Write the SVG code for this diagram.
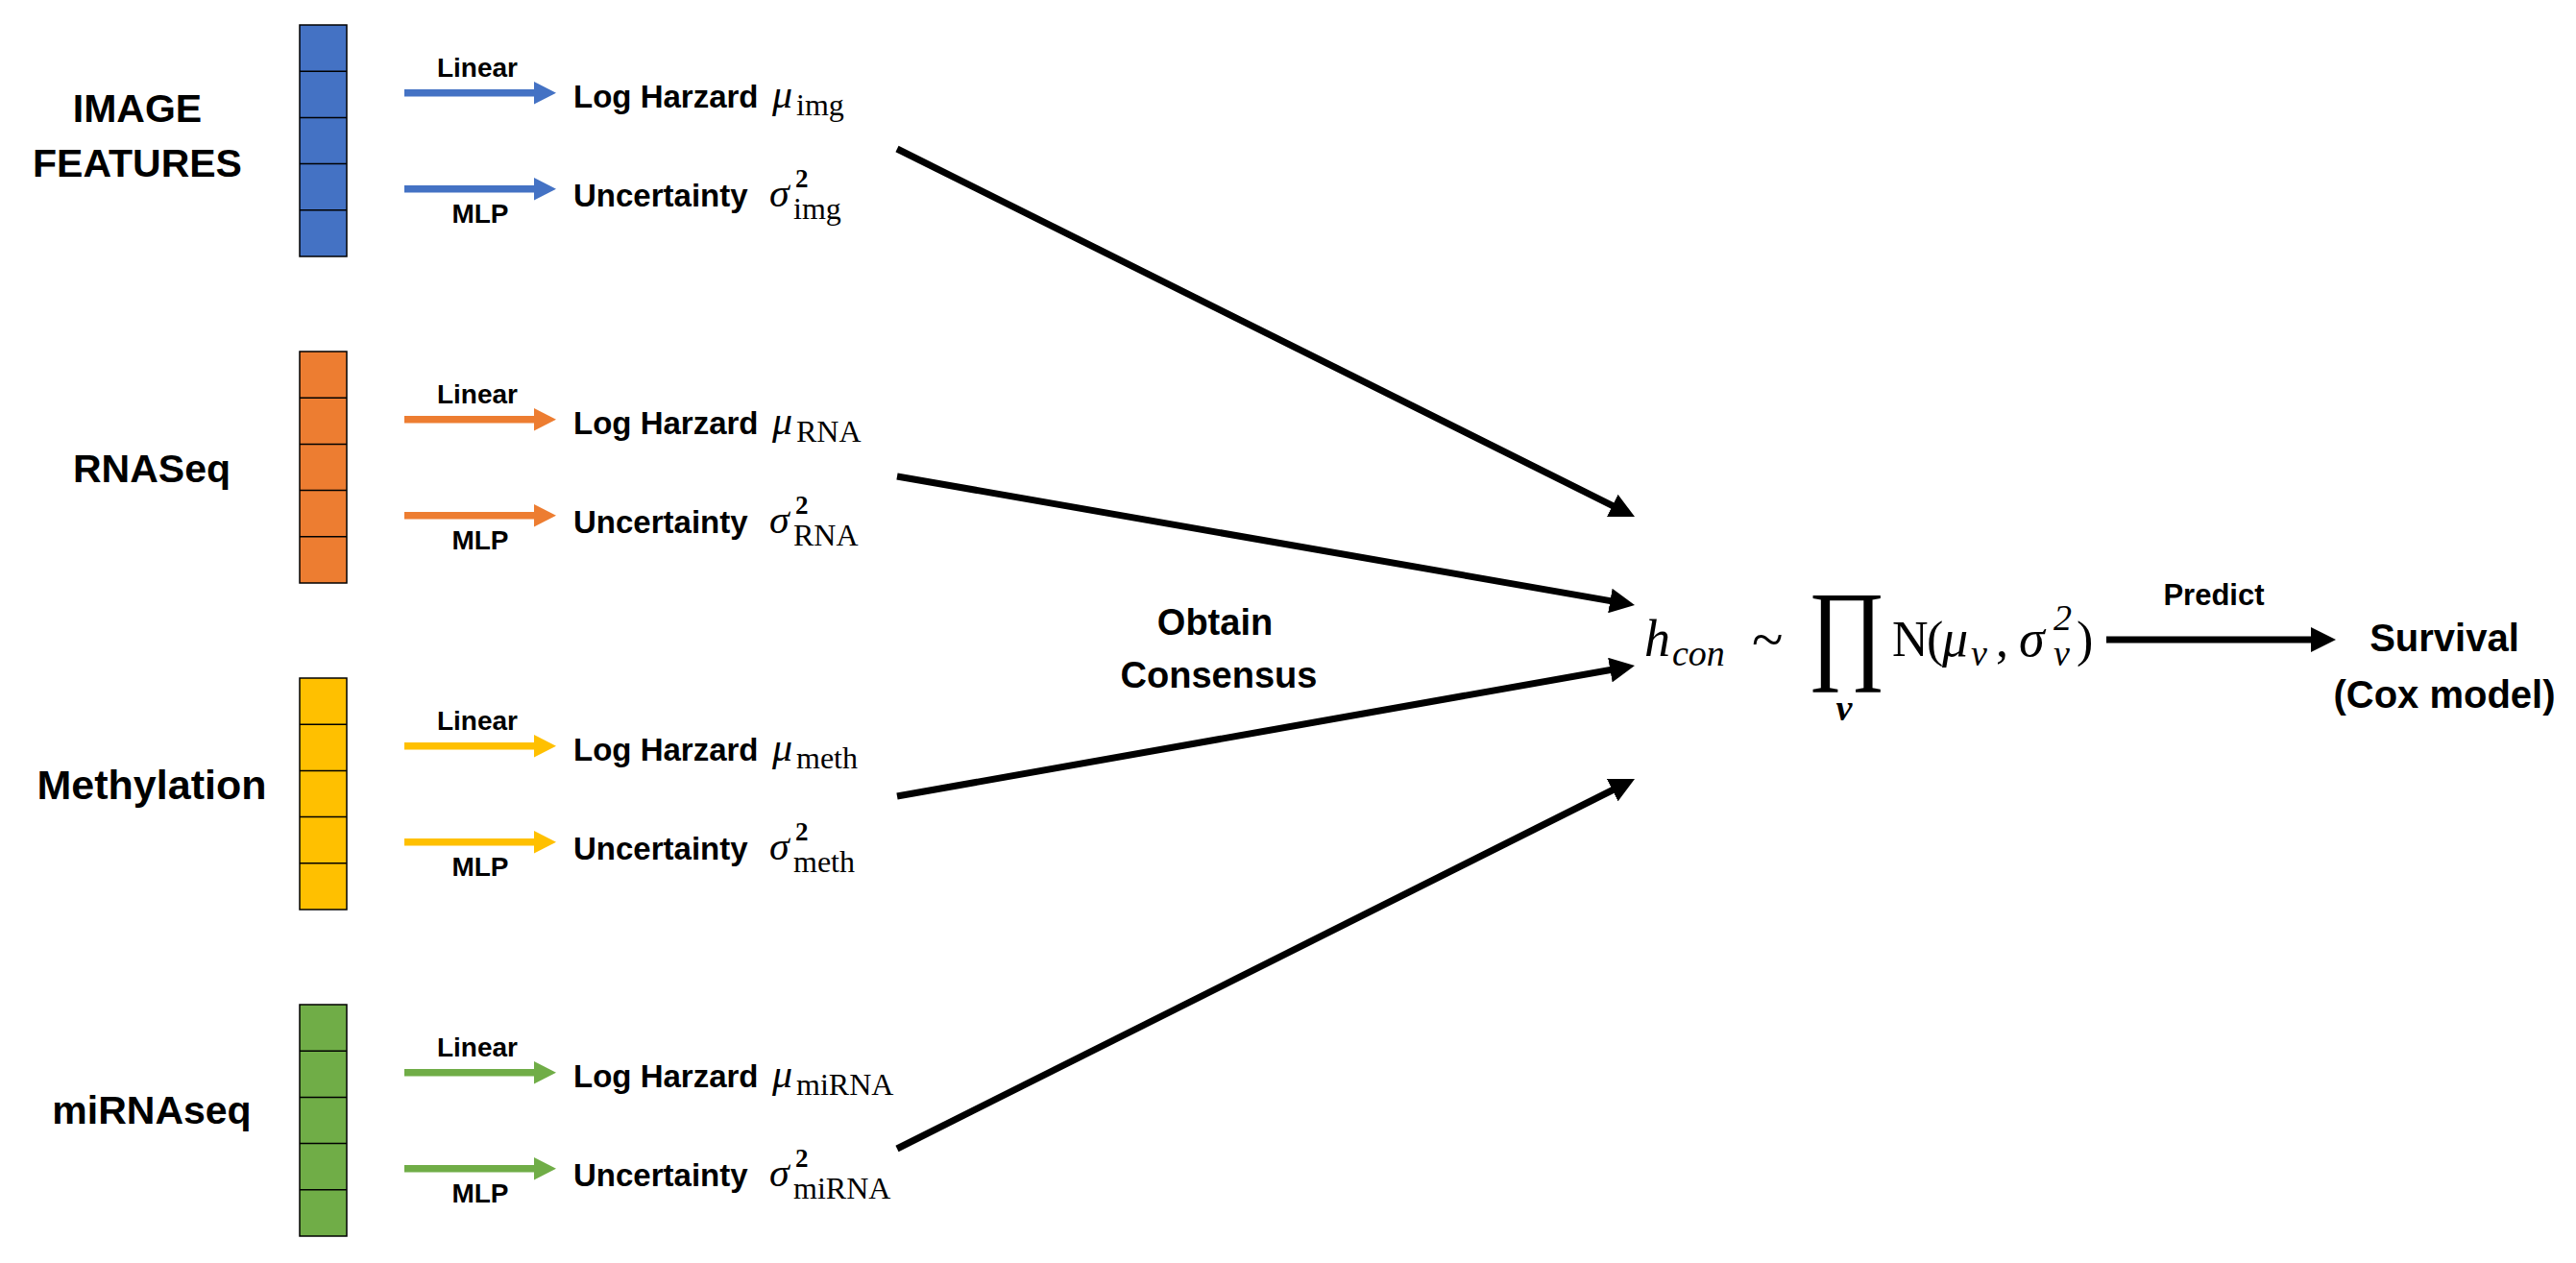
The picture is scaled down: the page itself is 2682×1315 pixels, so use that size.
<svg xmlns="http://www.w3.org/2000/svg" width="2682" height="1315" viewBox="0 0 2682 1315">
<style>
.lab{font-family:"Liberation Sans",Arial,sans-serif;font-weight:bold;font-size:41px;fill:#000;text-anchor:middle}
.sm{font-family:"Liberation Sans",Arial,sans-serif;font-weight:bold;font-size:28px;fill:#000;text-anchor:middle}
.out{font-family:"Liberation Sans",Arial,sans-serif;font-weight:bold;font-size:33px;fill:#000}
.mi{font-family:"Liberation Serif","Times New Roman",serif;font-style:italic;font-size:42px;fill:#000}
.sub{font-family:"Liberation Serif","Times New Roman",serif;font-size:32px;fill:#000}
.sup{font-family:"Liberation Serif","Times New Roman",serif;font-weight:bold;font-size:27px;fill:#000}
.fm{font-family:"Liberation Serif","Times New Roman",serif;font-size:52px;fill:#000}
.fi{font-family:"Liberation Serif","Times New Roman",serif;font-style:italic;font-size:54px;fill:#000}
.fs{font-family:"Liberation Serif","Times New Roman",serif;font-style:italic;font-size:38px;fill:#000}
.cell{stroke:#000;stroke-width:1.5}
.blk{stroke:#000;stroke-width:7;fill:none}
</style>
<defs>
<marker id="ah" viewBox="0 -13 26 26" markerWidth="26" markerHeight="26" refX="6" refY="0" orient="auto" markerUnits="userSpaceOnUse">
<path d="M0,-13 L26,0 L0,13 z" fill="#000"/>
</marker>
</defs>
<rect width="2682" height="1315" fill="#fff"/>

<g id="image-features">
<text class="lab" x="143" y="127">IMAGE</text>
<text class="lab" x="143" y="184">FEATURES</text>
<rect x="312" y="26" width="49" height="241" fill="#4472C4" class="cell"/>
<path class="cell" d="M312,74.2H361M312,122.4H361M312,170.6H361M312,218.8H361"/>
<text class="sm" x="497" y="80">Linear</text>
<text class="sm" x="500" y="232">MLP</text>
<text class="out" x="597" y="112">Log Harzard</text>
<text class="mi" x="804" y="112">μ</text><text class="sub" x="829" y="120">img</text>
<text class="out" x="597" y="215">Uncertainty</text>
<text class="mi" x="801" y="215">σ</text><text class="sup" x="828" y="195">2</text><text class="sub" x="826" y="228">img</text>
</g>

<g id="rnaseq">
<text class="lab" x="158" y="502">RNASeq</text>
<rect x="312" y="366" width="49" height="241" fill="#ED7D31" class="cell"/>
<path class="cell" d="M312,414.2H361M312,462.4H361M312,510.6H361M312,558.8H361"/>
<text class="sm" x="497" y="420">Linear</text>
<text class="sm" x="500" y="572">MLP</text>
<text class="out" x="597" y="452">Log Harzard</text>
<text class="mi" x="804" y="452">μ</text><text class="sub" x="829" y="460">RNA</text>
<text class="out" x="597" y="555">Uncertainty</text>
<text class="mi" x="801" y="555">σ</text><text class="sup" x="828" y="535">2</text><text class="sub" x="826" y="568">RNA</text>
</g>

<g id="methylation">
<text class="lab" style="font-size:43px" x="158" y="832">Methylation</text>
<rect x="312" y="706" width="49" height="241" fill="#FFC000" class="cell"/>
<path class="cell" d="M312,754.2H361M312,802.4H361M312,850.6H361M312,898.8H361"/>
<text class="sm" x="497" y="760">Linear</text>
<text class="sm" x="500" y="912">MLP</text>
<text class="out" x="597" y="792">Log Harzard</text>
<text class="mi" x="804" y="792">μ</text><text class="sub" x="829" y="800">meth</text>
<text class="out" x="597" y="895">Uncertainty</text>
<text class="mi" x="801" y="895">σ</text><text class="sup" x="828" y="875">2</text><text class="sub" x="826" y="908">meth</text>
</g>

<g id="mirnaseq">
<text class="lab" x="158" y="1170">miRNAseq</text>
<rect x="312" y="1046" width="49" height="241" fill="#70AD47" class="cell"/>
<path class="cell" d="M312,1094.2H361M312,1142.4H361M312,1190.6H361M312,1238.8H361"/>
<text class="sm" x="497" y="1100">Linear</text>
<text class="sm" x="500" y="1252">MLP</text>
<text class="out" x="597" y="1132">Log Harzard</text>
<text class="mi" x="804" y="1132">μ</text><text class="sub" x="829" y="1140">miRNA</text>
<text class="out" x="597" y="1235">Uncertainty</text>
<text class="mi" x="801" y="1235">σ</text><text class="sup" x="828" y="1215">2</text><text class="sub" x="826" y="1248">miRNA</text>
</g>

<g id="consensus">
<text class="fi" x="1712" y="683">h</text>
<text class="fs" x="1741" y="693">con</text>
<text class="fm" style="font-size:60px" x="1824" y="686">~</text>
<text style="font-family:'Liberation Serif','Times New Roman',serif;font-size:116px" fill="#000" transform="translate(1882,695.6) scale(0.85,1)">∏</text>
<text class="fs" style="font-weight:bold" x="1920" y="750" text-anchor="middle">v</text>
<text class="fm" x="1970" y="683">N</text>
<text class="fm" x="2006" y="683">(</text>
<text class="fi" x="2022" y="683">μ</text>
<text class="fs" x="2052" y="693">v</text>
<text class="fm" x="2078" y="683">,</text>
<text class="fi" x="2102" y="683">σ</text>
<text class="fs" x="2138" y="656">2</text>
<text class="fs" x="2138" y="693">v</text>
<text class="fm" x="2162" y="683">)</text>
</g>

<g id="obtain-consensus">
<text class="lab" style="font-size:38px" x="1265" y="661">Obtain</text>
<text class="lab" style="font-size:38px" x="1269" y="716">Consensus</text>
</g>

<g id="survival">
<text class="lab" style="font-size:40px" x="2545" y="678">Survival</text>
<text class="lab" style="font-size:40px" x="2545" y="737">(Cox model)</text>
</g>

<g id="connectors">
<g fill="#4472C4">
<rect x="421" y="93" width="136" height="7.5"/><polygon points="556,85 579,96.7 556,108.4"/>
<rect x="421" y="193" width="136" height="7.5"/><polygon points="556,185 579,196.7 556,208.4"/>
</g>
<g fill="#ED7D31">
<rect x="421" y="433" width="136" height="7.5"/><polygon points="556,425 579,436.7 556,448.4"/>
<rect x="421" y="533" width="136" height="7.5"/><polygon points="556,525 579,536.7 556,548.4"/>
</g>
<g fill="#FFC000">
<rect x="421" y="773" width="136" height="7.5"/><polygon points="556,765 579,776.7 556,788.4"/>
<rect x="421" y="873" width="136" height="7.5"/><polygon points="556,865 579,876.7 556,888.4"/>
</g>
<g fill="#70AD47">
<rect x="421" y="1113" width="136" height="7.5"/><polygon points="556,1105 579,1116.7 556,1128.4"/>
<rect x="421" y="1213" width="136" height="7.5"/><polygon points="556,1205 579,1216.7 556,1228.4"/>
</g>
<line class="blk" x1="934" y1="155" x2="1684.1" y2="529.1" marker-end="url(#ah)"/>
<line class="blk" x1="934" y1="496" x2="1682.3" y2="626.6" marker-end="url(#ah)"/>
<line class="blk" x1="934" y1="829" x2="1682.3" y2="696.5" marker-end="url(#ah)"/>
<line class="blk" x1="934" y1="1196" x2="1684.1" y2="820" marker-end="url(#ah)"/>
<line class="blk" x1="2193" y1="666" x2="2412" y2="666" marker-end="url(#ah)"/>
<text class="sm" style="font-size:31px" x="2305" y="630">Predict</text>
</g>
</svg>
